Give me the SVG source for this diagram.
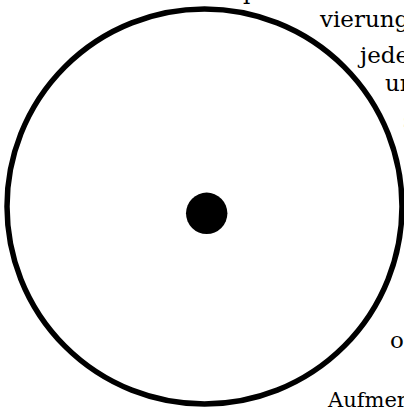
<svg xmlns="http://www.w3.org/2000/svg" width="404" height="409" viewBox="0 0 404 409">
  <style>
    .t { font-family: "DejaVu Serif", "Liberation Serif", serif; font-size: 23px; fill: #000; }
  </style>
  <rect width="404" height="409" fill="#fff"/>
  <g id="text">
    <text class="t" x="243" y="-1">p</text>
    <text class="t" x="320" y="27">vierung</text>
    <text class="t" x="360" y="63">jede</text>
    <text class="t" x="385" y="91">un</text>
    <text class="t" x="403" y="128">s</text>
    <text class="t" x="390" y="348">od</text>
    <text class="t" x="328" y="407" style="font-size:21px">Aufmer</text>
  </g>
  <g id="circle">
    <circle cx="204.5" cy="206.5" r="197.5" fill="none" stroke="#000" stroke-width="5.5"/>
  </g>
  <g id="dot">
    <circle cx="206.7" cy="213.3" r="20.7" fill="#000"/>
  </g>
</svg>
